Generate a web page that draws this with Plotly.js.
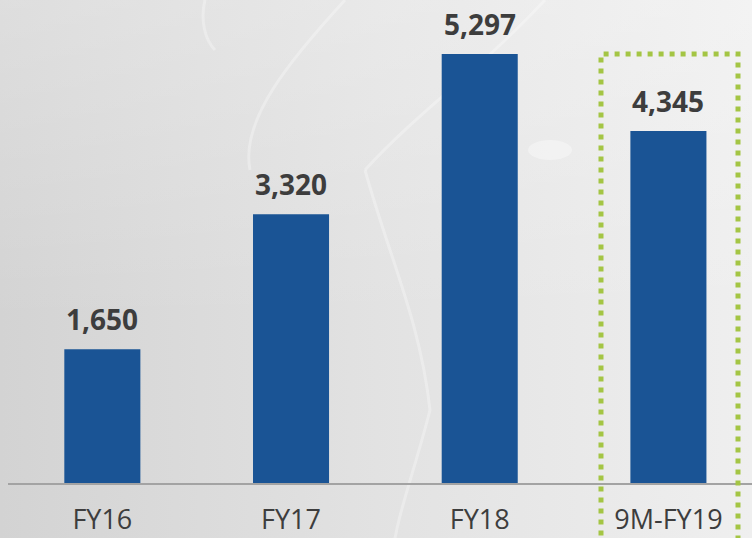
<!DOCTYPE html>
<html>
<head>
<meta charset="utf-8">
<script src="https://cdn.plot.ly/plotly-3.0.1.min.js"></script>
<style>html,body{margin:0;padding:0;background:#e0e0e0;}#chart{width:752px;height:538px;}</style>
</head>
<body>
<div id="chart"></div>
<script>
const categories = ["FY16", "FY17", "FY18", "9M-FY19"];
const values = [1650, 3320, 5297, 4345];
const valueLabels = ["1,650", "3,320", "5,297", "4,345"];

const bg = 'data:image/svg+xml;utf8,' + encodeURIComponent(
 '<svg xmlns="http://www.w3.org/2000/svg" width="752" height="538">' +
 '<defs><linearGradient id="g" x1="0" y1="0" x2="1" y2="0">' +
 '<stop offset="0" stop-color="#d3d3d3"/><stop offset="0.5" stop-color="#e2e2e2"/><stop offset="1" stop-color="#efefef"/>' +
 '</linearGradient><linearGradient id="v" x1="0" y1="0" x2="0" y2="1">' +
 '<stop offset="0" stop-color="#ffffff" stop-opacity="0.25"/><stop offset="0.6" stop-color="#ffffff" stop-opacity="0"/>' +
 '</linearGradient></defs>' +
 '<rect width="752" height="538" fill="url(#g)"/><rect width="752" height="538" fill="url(#v)"/>' +
 '<g fill="none" stroke="#ffffff" stroke-opacity="0.3" stroke-width="3">' +
 '<path d="M250 170 C 240 120, 290 60, 345 0"/>' +
 '<path d="M365 170 C 390 260, 420 320, 430 410 C 415 470, 395 520, 392 560"/>' +
 '<path d="M365 170 C 420 110, 480 70, 545 0"/>' +
 '<path d="M205 0 C 200 20, 205 40, 215 50"/>' +
 '</g>' +
 '<ellipse cx="550" cy="150" rx="22" ry="10" fill="#ffffff" fill-opacity="0.35"/>' +
 '</svg>');

const trace = {
  type: 'bar',
  x: categories,
  y: values,
  marker: {color: '#1a5495'},
  hoverinfo: 'skip'
};

const annotations = categories.map((c, i) => ({
  x: c, y: values[i], xref: 'x', yref: 'y',
  text: valueLabels[i], showarrow: false,
  yanchor: 'bottom', yshift: 9,
  font: {family: 'Open Sans', size: 28, color: '#3d3d3d', weight: 700}
}));

const layout = {
  width: 752, height: 538,
  margin: {l: 8, r: 0, t: 0, b: 55, pad: 0},
  paper_bgcolor: 'rgba(0,0,0,0)',
  plot_bgcolor: 'rgba(0,0,0,0)',
  showlegend: false,
  bargap: 0.597,
  images: [{source: bg, xref: 'paper', yref: 'paper', x: -8/744, y: 1, sizex: 752/744, sizey: 538/483,
            xanchor: 'left', yanchor: 'top', sizing: 'stretch', layer: 'below'}],
  xaxis: {
    range: [-0.5, 3.443], fixedrange: true,
    showline: true, linecolor: '#a3a3a3', linewidth: 1.5,
    ticks: '', showgrid: false, zeroline: false,
    tickfont: {family: 'Open Sans', size: 27, color: '#3d3d3d'},
    ticklabelstandoff: 12
  },
  yaxis: {
    range: [0, 5964], visible: false, showgrid: false, zeroline: false, fixedrange: true
  },
  annotations: annotations,
  shapes: [{
    type: 'rect', xref: 'paper', yref: 'paper',
    x0: (601 - 8) / 744, x1: (738 - 8) / 744, y0: -0.2, y1: (483 - 54) / 483,
    line: {color: '#a4c544', width: 5, dash: '5px,6px'},
    fillcolor: 'rgba(0,0,0,0)', layer: 'above'
  }]
};

Plotly.newPlot('chart', [trace], layout, {staticPlot: true, displayModeBar: false});
</script>
</body>
</html>
